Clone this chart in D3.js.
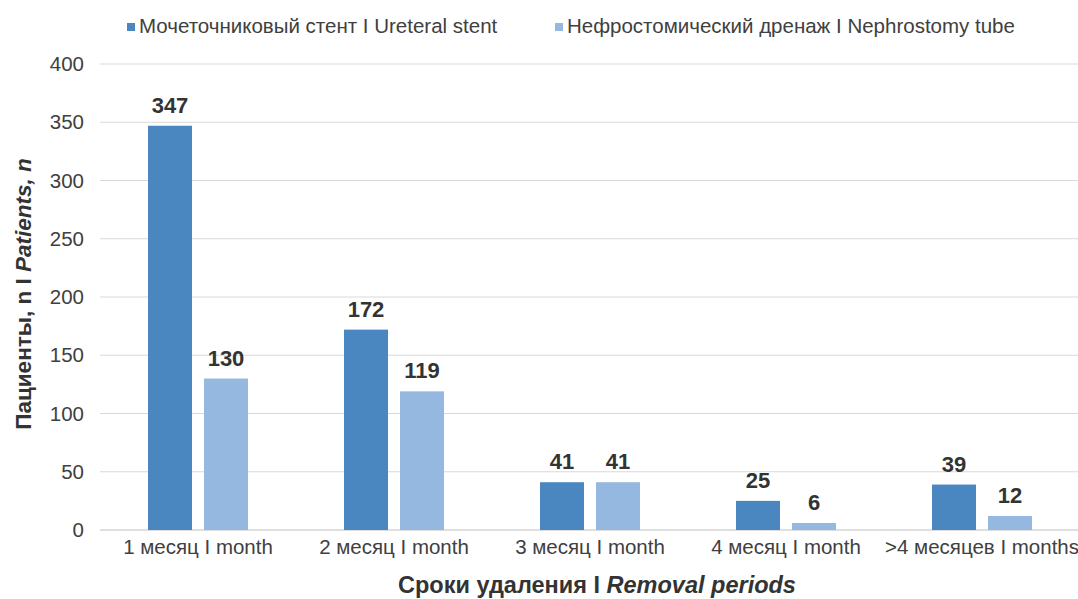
<!DOCTYPE html>
<html><head><meta charset="utf-8">
<script src="https://cdn.jsdelivr.net/npm/d3@7"></script>
<style>body{margin:0;background:#fff}</style>
</head><body>
<svg id="c" width="1078" height="599"></svg>
<script>
const categories = ["1 месяц I month","2 месяц I month","3 месяц I month","4 месяц I month",">4 месяцев I months"];
const seriesNames = ["Мочеточниковый стент I Ureteral stent","Нефростомический дренаж I Nephrostomy tube"];
const ureteral = [347,172,41,25,39];
const nephro = [130,119,41,6,12];
const yTicks = [0,50,100,150,200,250,300,350,400];
const colors = ["#4a87c1","#94b8e0"];
const font = "'Liberation Sans', Arial, sans-serif";

(function(){
const svg = d3.select("#c");
const pl = 100, pr = 1080, pt = 64, pb = 530;
const x = d3.scaleBand().domain(categories).range([pl, pr]).paddingInner(0).paddingOuter(0);
const x1 = d3.scaleBand().domain([0,1]).range([0, x.bandwidth()]).paddingInner(0.214).paddingOuter(0.857);
const y = d3.scaleLinear().domain([0,400]).range([pb, pt]);

svg.append("g").selectAll("line").data(yTicks).join("line")
  .attr("x1", pl).attr("x2", 1078)
  .attr("y1", d=>y(d)).attr("y2", d=>y(d))
  .attr("stroke", d=> d===0 ? "#bfbfbf" : "#d9d9d9").attr("stroke-width", 1);

svg.append("g").selectAll("text").data(yTicks).join("text")
  .attr("x", 84).attr("y", d=>y(d)).attr("dy","0.35em")
  .attr("text-anchor","end").attr("font-family",font).attr("font-size",20.5).attr("fill","#404040")
  .text(d=>d);

const data = categories.map((c,i)=>({c, vals:[ureteral[i], nephro[i]]}));
const groups = svg.append("g").selectAll("g").data(data).join("g")
  .attr("transform", d=>`translate(${x(d.c)},0)`);
groups.selectAll("rect").data(d=>d.vals.map((v,k)=>({v,k}))).join("rect")
  .attr("x", d=>x1(d.k)).attr("width", x1.bandwidth())
  .attr("y", d=>y(d.v)).attr("height", d=>y(0)-y(d.v))
  .attr("fill", d=>colors[d.k]);
groups.selectAll("text").data(d=>d.vals.map((v,k)=>({v,k}))).join("text")
  .attr("x", d=>x1(d.k)+x1.bandwidth()/2).attr("y", d=>y(d.v)-13)
  .attr("text-anchor","middle").attr("font-family",font).attr("font-size",22).attr("font-weight","bold").attr("fill","#333")
  .text(d=>d.v);

svg.append("g").selectAll("text").data(categories).join("text")
  .attr("x", d=>x(d)+x.bandwidth()/2).attr("y", 554)
  .attr("text-anchor","middle").attr("font-family",font).attr("font-size",20.5).attr("fill","#404040")
  .text(d=>d);

svg.append("text").attr("x", 597).attr("y", 593).attr("text-anchor","middle")
  .attr("font-family",font).attr("font-size",23.5).attr("font-weight","bold").attr("fill","#333")
  .call(t=>{t.append("tspan").text("Сроки удаления I ");t.append("tspan").attr("font-style","italic").text("Removal periods");});
svg.append("text").attr("transform","translate(31,294) rotate(-90)").attr("text-anchor","middle")
  .attr("font-family",font).attr("font-size",22.5).attr("font-weight","bold").attr("fill","#333")
  .call(t=>{t.append("tspan").text("Пациенты, n I ");t.append("tspan").attr("font-style","italic").text("Patients, n");});

const legX = [127, 555];
const leg = svg.append("g").selectAll("g").data(seriesNames).join("g")
  .attr("transform",(d,i)=>`translate(${legX[i]},0)`);
leg.append("rect").attr("x",0).attr("y",23).attr("width",8).attr("height",8).attr("fill",(d,i)=>colors[i]);
leg.append("text").attr("x",12).attr("y",33).attr("font-family",font).attr("font-size",20.5).attr("fill","#404040").text(d=>d);
})();
</script>
</body></html>
